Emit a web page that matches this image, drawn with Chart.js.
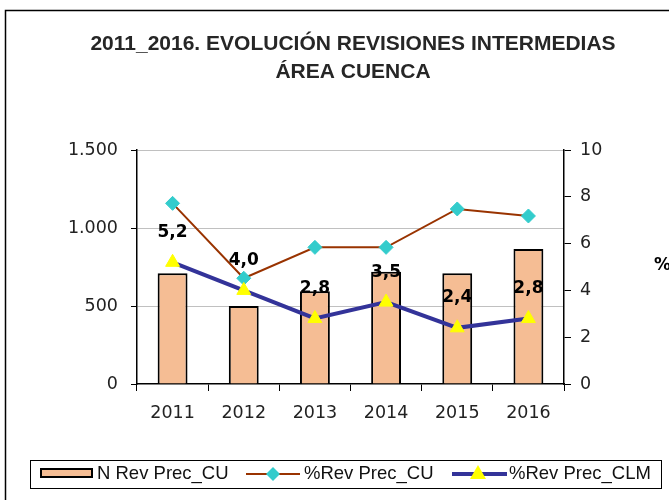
<!DOCTYPE html>
<html>
<head>
<meta charset="utf-8">
<script src="https://cdn.jsdelivr.net/npm/chart.js@4/dist/chart.umd.min.js"></script>
<style>
  body { margin: 0; background: #fff; }
  #wrap { width: 669px; height: 500px; }
</style>
</head>
<body>
<div id="wrap"><canvas id="chart" width="669" height="500"></canvas></div>
<script>
// datos
const years = ['2011', '2012', '2013', '2014', '2015', '2016'];
const nRevPrecCU = [710, 500, 595, 720, 710, 865];
const pctRevPrecCU = [7.72, 4.52, 5.84, 5.84, 7.48, 7.18];
const pctRevPrecCLM = [5.2, 4.0, 2.8, 3.5, 2.4, 2.8];
const leftTicks = [0, 500, 1000, 1500];
const rightTicks = [0, 2, 4, 6, 8, 10];
const titleLines = ['2011_2016. EVOLUCIÓN REVISIONES INTERMEDIAS', 'ÁREA CUENCA'];
const seriesNames = ['N Rev Prec_CU', '%Rev Prec_CU', '%Rev Prec_CLM'];

const barFill = '#F5BD94';
const brown = '#993300';
const cyan = '#33CCCC';
const navy = '#333399';
const yellow = '#FFFF00';
const tickFont = { family: 'DejaVu Sans', size: 17.5 };

function miles(v) {
    return String(v).replace(/\B(?=(\d{3})+(?!\d))/g, '.');
}

function diamond(ctx, x, y, r) {
    ctx.beginPath();
    ctx.moveTo(x, y - r);
    ctx.lineTo(x + r, y);
    ctx.lineTo(x, y + r);
    ctx.lineTo(x - r, y);
    ctx.closePath();
    ctx.fill();
}

function triangle(ctx, x, y, r) {
    ctx.beginPath();
    ctx.moveTo(x, y - r);
    ctx.lineTo(x + r, y + r * 0.75);
    ctx.lineTo(x - r, y + r * 0.75);
    ctx.closePath();
    ctx.fill();
}

// titulo, marco, etiquetas y leyenda
const decor = {
    id: 'decor',
    afterDraw(chart) {
        const ctx = chart.ctx;
        ctx.save();

        // marco del gráfico
        ctx.strokeStyle = '#000';
        ctx.lineWidth = 1.5;
        ctx.beginPath();
        ctx.moveTo(5.5, 500);
        ctx.lineTo(5.5, 10.5);
        ctx.lineTo(669, 10.5);
        ctx.stroke();

        // titulo
        ctx.fillStyle = '#262626';
        ctx.font = 'bold 21px "Liberation Sans", Arial, sans-serif';
        ctx.textAlign = 'center';
        ctx.textBaseline = 'middle';
        ctx.fillText(titleLines[0], 353, 44);
        ctx.fillText(titleLines[1], 353, 72);

        // % eje derecho
        ctx.fillStyle = '#000';
        ctx.font = 'bold 17px "DejaVu Sans", sans-serif';
        ctx.textAlign = 'left';
        ctx.fillText('%', 654, 266);

        // etiquetas de %Rev Prec_CLM
        const meta = chart.getDatasetMeta(2);
        ctx.font = 'bold 17px "DejaVu Sans", sans-serif';
        ctx.textAlign = 'center';
        meta.data.forEach((pt, i) => {
            ctx.fillText(pctRevPrecCLM[i].toFixed(1).replace('.', ','), pt.x, pt.y - 30);
        });

        // leyenda
        ctx.strokeStyle = '#000';
        ctx.lineWidth = 1;
        ctx.strokeRect(30.5, 460.5, 631, 28);
        const ly = 474;
        ctx.fillStyle = barFill;
        ctx.fillRect(41, 469, 51, 8);
        ctx.lineWidth = 2;
        ctx.strokeRect(41, 469, 51, 8);

        ctx.strokeStyle = brown;
        ctx.lineWidth = 2;
        ctx.beginPath();
        ctx.moveTo(246, ly);
        ctx.lineTo(300, ly);
        ctx.stroke();
        ctx.fillStyle = cyan;
        diamond(ctx, 273, ly, 7);

        ctx.strokeStyle = navy;
        ctx.lineWidth = 4;
        ctx.beginPath();
        ctx.moveTo(452, ly);
        ctx.lineTo(507, ly);
        ctx.stroke();
        ctx.fillStyle = yellow;
        triangle(ctx, 478, ly - 1, 8);

        ctx.fillStyle = '#111';
        ctx.font = '18.5px "Liberation Sans", Arial, sans-serif';
        ctx.textAlign = 'left';
        ctx.textBaseline = 'middle';
        ctx.fillText(seriesNames[0], 97, ly);
        ctx.fillText(seriesNames[1], 304, ly);
        ctx.fillText(seriesNames[2], 509, ly);

        ctx.restore();
    }
};

const ctx = document.getElementById('chart').getContext('2d');
const chart = new Chart(ctx, {
    data: {
        labels: years,
        datasets: [
            {
                type: 'bar',
                label: seriesNames[0],
                data: nRevPrecCU,
                yAxisID: 'y',
                backgroundColor: barFill,
                borderColor: '#000',
                borderWidth: 2,
                barPercentage: 0.42,
                categoryPercentage: 1,
                order: 3
            },
            {
                type: 'line',
                label: seriesNames[1],
                data: pctRevPrecCU,
                yAxisID: 'y1',
                borderColor: brown,
                borderWidth: 2,
                pointStyle: 'rectRot',
                pointRadius: 7,
                pointBackgroundColor: cyan,
                pointBorderColor: cyan,
                pointBorderWidth: 1,
                tension: 0,
                order: 2
            },
            {
                type: 'line',
                label: seriesNames[2],
                data: pctRevPrecCLM,
                yAxisID: 'y1',
                borderColor: navy,
                borderWidth: 4,
                pointStyle: 'triangle',
                pointRadius: 8,
                pointBackgroundColor: yellow,
                pointBorderColor: yellow,
                pointBorderWidth: 1,
                tension: 0,
                order: 1
            }
        ]
    },
    options: {
        responsive: false,
        animation: false,
        layout: { padding: { left: 0, right: 65, top: 150, bottom: 76 } },
        plugins: {
            legend: { display: false },
            title: { display: false },
            tooltip: { enabled: false }
        },
        scales: {
            x: {
                offset: true,
                grid: { display: true, drawOnChartArea: false, offset: true, tickColor: '#000', tickLength: 7 },
                border: { color: '#000', width: 1.5 },
                ticks: { font: tickFont, color: '#222', padding: 12, maxRotation: 0 },
                afterFit: s => { s.height = 40; }
            },
            y: {
                position: 'left',
                min: 0,
                max: 1500,
                afterBuildTicks: s => { s.ticks = leftTicks.map(v => ({ value: v })); },
                grid: {
                    color: c => (c.tick && c.tick.value === 0) ? 'rgba(0,0,0,0)' : '#c0c0c0',
                    tickColor: '#000',
                    tickLength: 6,
                    lineWidth: 1
                },
                border: { color: '#000', width: 1.5 },
                ticks: { font: tickFont, color: '#222', padding: 13, callback: v => miles(v) },
                afterFit: s => { s.width = 137; }
            },
            y1: {
                position: 'right',
                min: 0,
                max: 10,
                afterBuildTicks: s => { s.ticks = rightTicks.map(v => ({ value: v })); },
                grid: { drawOnChartArea: false, tickColor: '#000', tickLength: 7 },
                border: { color: '#000', width: 1.5 },
                ticks: { font: tickFont, color: '#222', padding: 9 },
                afterFit: s => { s.width = 40; }
            }
        }
    },
    plugins: [decor]
});
</script>
</body>
</html>
